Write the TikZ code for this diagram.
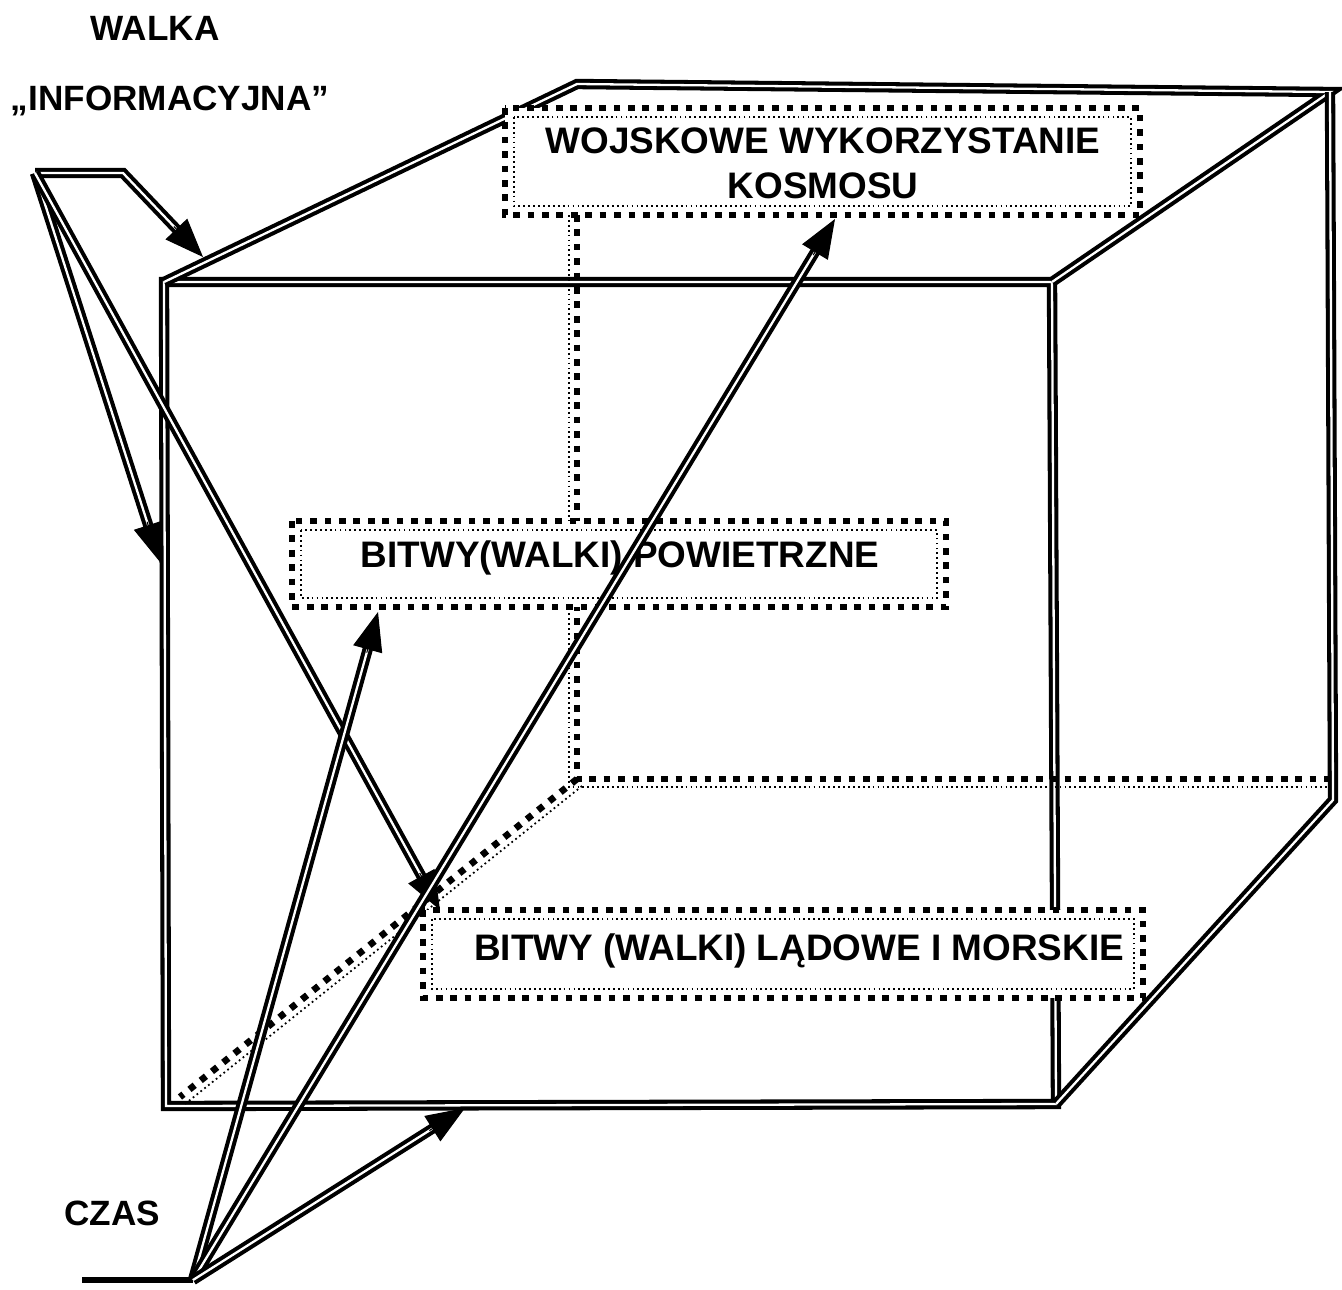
\documentclass[tikz,border=0pt]{standalone}
\usepackage{fontspec}
\setmainfont{Liberation Sans}
\usetikzlibrary{arrows.meta,calc}

\begin{document}
\begin{tikzpicture}[x=0.02cm, y=-0.02cm,
    edge/.style={line width=2.3pt, double=white, double distance=1.3pt, line join=miter},
    sqdots/.style={line width=3.8pt, dash pattern=on 3.8pt off 4.4pt},
    fine/.style={line width=1pt, dash pattern=on 1pt off 1.8pt},
    head/.style={line width=0.6pt, -{Triangle[length=22pt,width=17pt]}},
    label/.style={font=\fontsize{20}{24}\selectfont\bfseries, inner sep=0pt},
    boxtext/.style={font=\fontsize{21}{25.6}\selectfont\bfseries, inner sep=0pt, align=center}]
      \useasboundingbox (0,0) rectangle (1342,1289);
      % corners of the cube
      \coordinate (ftl) at (164,282);
      \coordinate (ftr) at (1052,282);
      \coordinate (fbr) at (1056,1104);
      \coordinate (fbl) at (166,1106);
      \coordinate (btl) at (577,84);
      \coordinate (btr) at (1330,92);
      \coordinate (bbr) at (1333,800);
      \coordinate (bbl) at (577,779);
      \coordinate (hv) at (577,215);
      \coordinate (hr) at (1330,779);
      \coordinate (hd) at (180,1097);
      % visible edges
      \draw[edge] (ftr) -- (ftl) -- (fbl) -- (fbr) -- cycle;
      \draw[edge] (ftl) -- (btl) -- (btr) -- (ftr);
      \draw[edge] (btr) -- (bbr) -- (fbr);
      % hidden edges
      \draw[sqdots] (hv) -- (bbl) -- (hr);
      \draw[sqdots] (bbl) -- (hd);
      \draw[fine] ($(hv)+(-8,0)$) -- ($(bbl)+(-8,8)$) -- ($(hr)+(0,8)$);
      \draw[fine] ($(bbl)+(5,7)$) -- ($(hd)+(5,7)$);
      % boxes
      \coordinate (k1) at (505,108);
      \coordinate (k2) at (1140,215);
      \coordinate (p1) at (292,521);
      \coordinate (p2) at (946,607);
      \coordinate (l1) at (423,910);
      \coordinate (l2) at (1143,998);
      \foreach \a/\b in {k1/k2, p1/p2, l1/l2} {
        \draw[sqdots, fill=white] (\a) rectangle (\b);
        \draw[fine] ($(\a)+(9,9)$) rectangle ($(\b)+(-9,-9)$);
      }
      \node[boxtext] (kosmos) at (823,163) {WOJSKOWE WYKORZYSTANIE\\KOSMOSU};
      \node[boxtext, anchor=base] (powietrzne) at (620,567) {BITWY(WALKI) POWIETRZNE};
      \node[boxtext, anchor=base] (ladowe) at (799,960) {BITWY (WALKI) LĄDOWE I MORSKIE};
      % arrows
      \coordinate (walka) at (35,173);
      \coordinate (wbend) at (123,173);
      \coordinate (wtip1) at (203,257);
      \coordinate (wtip2) at (160,562);
      \coordinate (wtip3) at (440,910);
      \coordinate (cstart) at (82,1280);
      \coordinate (czas) at (193,1280);
      \coordinate (ctip1) at (378,612);
      \coordinate (ctip2) at (835,219);
      \coordinate (ctip3) at (465,1108);
      \draw[edge, shorten >=15pt] (walka) -- (wbend) -- (wtip1);
      \draw[head] ($(wtip1)!24pt!(wbend)$) -- (wtip1);
      \foreach \t in {wtip2, wtip3} {
        \draw[edge, shorten >=15pt] (walka) -- (\t);
        \draw[head] ($(\t)!24pt!(walka)$) -- (\t);
      }
      \draw[line width=3.4pt] (cstart) -- (czas);
      \foreach \t in {ctip1, ctip2, ctip3} {
        \draw[edge, shorten >=15pt] (czas) -- (\t);
        \draw[head] ($(\t)!24pt!(czas)$) -- (\t);
      }
      % labels
      \node[label, anchor=base] (walkalabel) at (155,40) {WALKA};
      \node[label, anchor=base] (info) at (170,110) {„INFORMACYJNA”};
      \node[label, anchor=base] (czaslabel) at (112,1225) {CZAS};
    \end{tikzpicture}
\end{document}
